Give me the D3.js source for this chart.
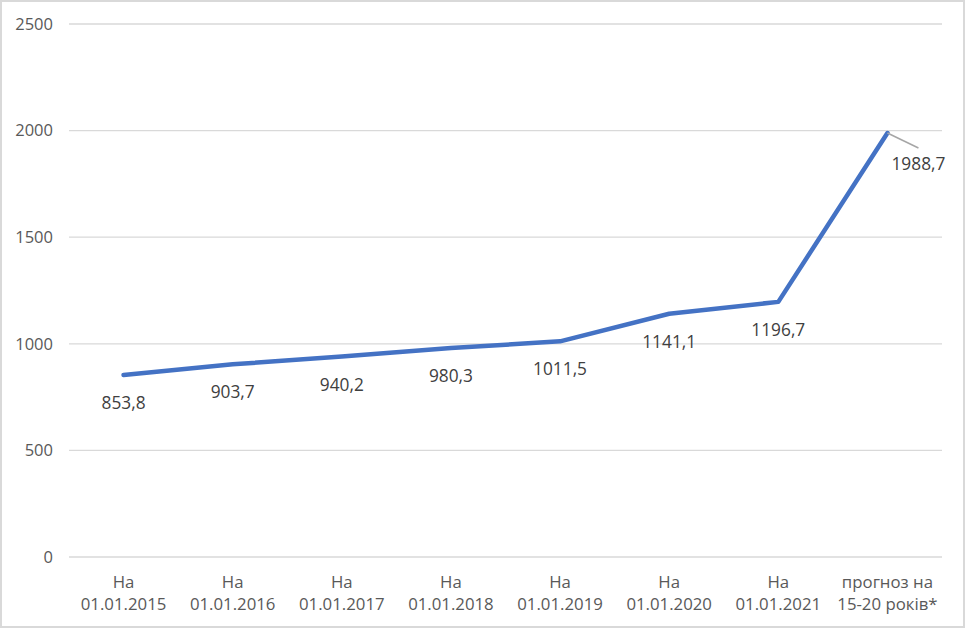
<!DOCTYPE html>
<html lang="uk">
<head>
  <meta charset="UTF-8">
  <title>Chart</title>
  <script src="https://d3js.org/d3.v7.min.js"></script>
</head>
<body style="margin: 0; padding: 0; overflow: hidden; background: #fff;">
  <svg id="chart"></svg>
  <script>
    const categoriesTop = ["На", "На", "На", "На", "На", "На", "На", "прогноз на"];
    const categoriesBottom = ["01.01.2015", "01.01.2016", "01.01.2017", "01.01.2018", "01.01.2019", "01.01.2020", "01.01.2021", "15-20 років*"];
    const values = [853.8, 903.7, 940.2, 980.3, 1011.5, 1141.1, 1196.7, 1988.7];
    const valueLabels = ["853,8", "903,7", "940,2", "980,3", "1011,5", "1141,1", "1196,7", "1988,7"];
    const yTicks = [0, 500, 1000, 1500, 2000, 2500];

    const width = 966, height = 629;
    const margin = { left: 69, right: 24, top: 24, bottom: 72 };
    const font = "'Open Sans', 'Noto Sans', sans-serif";

    const svg = d3.select("#chart")
      .attr("width", width)
      .attr("height", height);

    // рамка
    svg.append("rect")
      .attr("x", 1).attr("y", 1)
      .attr("width", width - 3).attr("height", height - 3)
      .attr("fill", "#fff")
      .attr("stroke", "#d9d9d9")
      .attr("stroke-width", 2);

    const x = d3.scaleBand()
      .domain(d3.range(values.length))
      .range([margin.left, width - margin.right]);

    const y = d3.scaleLinear()
      .domain([0, 2500])
      .range([height - margin.bottom, margin.top]);

    // сітка
    svg.selectAll(".grid")
      .data(yTicks)
      .enter()
      .append("line")
      .attr("class", "grid")
      .attr("x1", margin.left)
      .attr("x2", width - margin.right)
      .attr("y1", d => y(d))
      .attr("y2", d => y(d))
      .attr("stroke", "#d9d9d9")
      .attr("stroke-width", 1.3);

    // підписи осі Y
    svg.selectAll(".ytick")
      .data(yTicks)
      .enter()
      .append("text")
      .attr("class", "ytick")
      .attr("x", 53)
      .attr("y", d => y(d))
      .attr("dy", "0.35em")
      .attr("text-anchor", "end")
      .attr("font-family", font)
      .attr("font-size", "16.5px")
      .attr("fill", "#595959")
      .text(d => d);

    // підписи осі X
    const xl = svg.selectAll(".xtick")
      .data(d3.range(values.length))
      .enter()
      .append("text")
      .attr("class", "xtick")
      .attr("text-anchor", "middle")
      .attr("font-family", font)
      .attr("font-size", "16.8px")
      .attr("fill", "#595959");
    xl.append("tspan")
      .attr("x", i => x(i) + x.bandwidth() / 2)
      .attr("y", 588)
      .text(i => categoriesTop[i]);
    xl.append("tspan")
      .attr("x", i => x(i) + x.bandwidth() / 2)
      .attr("y", 610)
      .text(i => categoriesBottom[i]);

    // лінія
    const line = d3.line()
      .x((d, i) => x(i) + x.bandwidth() / 2)
      .y(d => y(d));

    svg.append("path")
      .datum(values)
      .attr("d", line)
      .attr("fill", "none")
      .attr("stroke", "#4472c4")
      .attr("stroke-width", 4.5)
      .attr("stroke-linejoin", "round")
      .attr("stroke-linecap", "round");

    // виноска для останньої точки
    const last = values.length - 1;
    const lx = x(last) + x.bandwidth() / 2, ly = y(values[last]);
    svg.append("line")
      .attr("x1", lx).attr("y1", ly)
      .attr("x2", lx + 31).attr("y2", ly + 15)
      .attr("stroke", "#a6a6a6")
      .attr("stroke-width", 1.5);

    // підписи значень
    svg.selectAll(".vlabel")
      .data(values)
      .enter()
      .append("text")
      .attr("class", "vlabel")
      .attr("x", (d, i) => i === last ? lx + 31 : x(i) + x.bandwidth() / 2)
      .attr("y", (d, i) => i === last ? ly + 37 : y(d) + 34)
      .attr("text-anchor", "middle")
      .attr("font-family", font)
      .attr("font-size", "17.3px")
      .attr("fill", "#404040")
      .text((d, i) => valueLabels[i]);
  </script>
</body>
</html>
